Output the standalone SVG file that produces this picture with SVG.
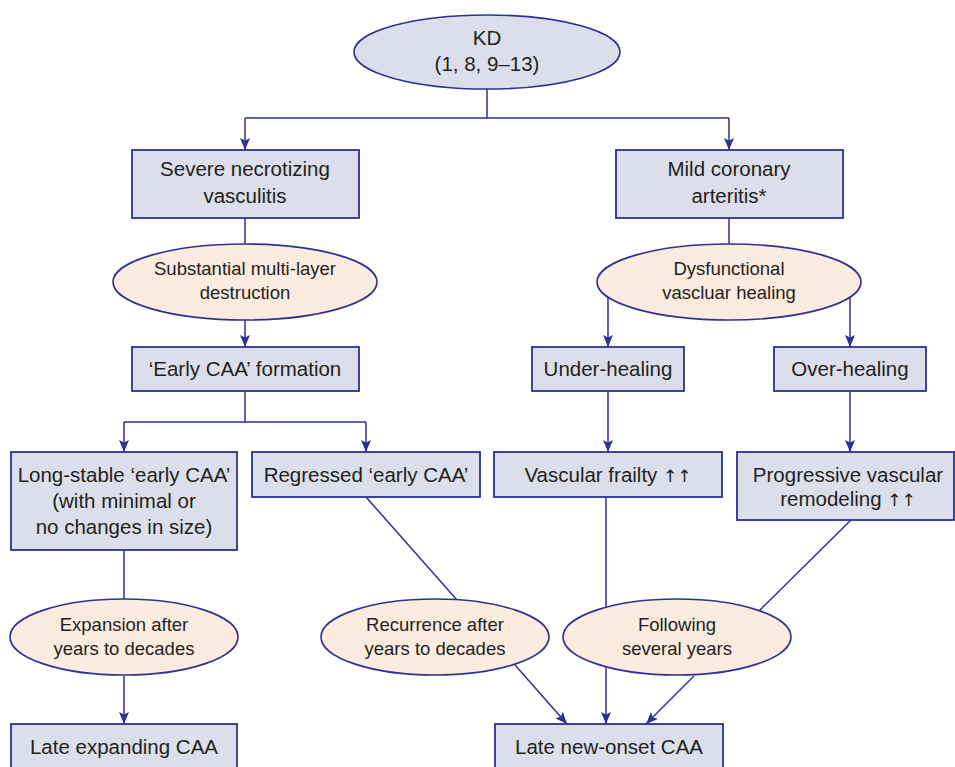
<svg xmlns="http://www.w3.org/2000/svg" width="955" height="767" viewBox="0 0 955 767">
<style>
.box{fill:#dcdeec;stroke:#2e3192;stroke-width:1.8}
.ell{fill:#fcebdf;stroke:#2e3192;stroke-width:1.6}
.kd{fill:#dcdeec;stroke:#2e3192;stroke-width:1.6}
.t{font-family:"Liberation Sans",Arial,sans-serif;font-size:20.5px;fill:#231f20;text-anchor:middle}
.s{font-size:18.5px}
.up{font-family:"DejaVu Sans",sans-serif;font-size:17px;fill:#231f20}
.c{stroke:#2e3192;stroke-width:1.5;fill:none}
.a{marker-end:url(#arr)}
</style>
<defs>
<marker id="arr" markerUnits="userSpaceOnUse" markerWidth="12" markerHeight="12" refX="12" refY="5" orient="auto">
<path d="M0,0 L12,5 L0,10 L2.5,5 z" fill="#2e3192"/>
</marker>
</defs>
<rect width="955" height="767" fill="#ffffff"/>
<g id="connectors">
<path class="c" d="M487,89 V118 M245,118 H729"/>
<path class="c a" d="M245,118 V150"/>
<path class="c a" d="M729,118 V150"/>
<path class="c" d="M245,218 V244"/>
<path class="c a" d="M245,320 V347"/>
<path class="c" d="M729,218 V244"/>
<path class="c a" d="M608,297 V347"/>
<path class="c a" d="M850,297 V347"/>
<path class="c" d="M245,391 V422 M124,422 H366"/>
<path class="c a" d="M124,422 V452"/>
<path class="c a" d="M366,422 V452"/>
<path class="c a" d="M608,391 V452"/>
<path class="c a" d="M850,391 V452"/>
<path class="c" d="M124,550 V599"/>
<path class="c a" d="M124,676 V724"/>
<path class="c" d="M366,497 L457,600"/>
<path class="c a" d="M515,665 L567,724"/>
<path class="c a" d="M606,497 V724"/>
<path class="c" d="M851,520 L759,611"/>
<path class="c a" d="M694,676 L646,724"/>
</g>
<g id="kd">
<ellipse class="kd" cx="487" cy="52" rx="133" ry="37"/>
<text class="t" x="487" y="45">KD</text>
<text class="t" x="487" y="71">(1, 8, 9–13)</text>
</g>
<g id="severe">
<rect class="box" x="132" y="150" width="227" height="68"/>
<text class="t" x="245" y="176">Severe necrotizing</text>
<text class="t" x="245" y="203">vasculitis</text>
</g>
<g id="mild">
<rect class="box" x="616" y="150" width="227" height="68"/>
<text class="t" x="729" y="176">Mild coronary</text>
<text class="t" x="729" y="203">arteritis*</text>
</g>
<g id="substantial">
<ellipse class="ell" cx="245" cy="282" rx="132" ry="38"/>
<text class="t s" x="245" y="275">Substantial multi-layer</text>
<text class="t s" x="245" y="299">destruction</text>
</g>
<g id="dysfunctional">
<ellipse class="ell" cx="729" cy="282" rx="132" ry="38"/>
<text class="t s" x="729" y="275">Dysfunctional</text>
<text class="t s" x="729" y="299">vascluar healing</text>
</g>
<g id="earlycaa">
<rect class="box" x="132" y="347" width="227" height="44"/>
<text class="t" x="245" y="376">‘Early CAA’ formation</text>
</g>
<g id="underhealing">
<rect class="box" x="532" y="347" width="152" height="44"/>
<text class="t" x="608" y="376">Under-healing</text>
</g>
<g id="overhealing">
<rect class="box" x="774" y="347" width="152" height="44"/>
<text class="t" x="850" y="376">Over-healing</text>
</g>
<g id="longstable">
<rect class="box" x="11" y="452" width="226" height="98"/>
<text class="t" x="124" y="482">Long-stable ‘early CAA’</text>
<text class="t" x="124" y="508">(with minimal or</text>
<text class="t" x="124" y="534">no changes in size)</text>
</g>
<g id="regressed">
<rect class="box" x="252" y="452" width="228" height="45"/>
<text class="t" x="366" y="482">Regressed ‘early CAA’</text>
</g>
<g id="frailty">
<rect class="box" x="494" y="452" width="228" height="45"/>
<text class="t" x="608" y="482">Vascular frailty <tspan class="up">↑↑</tspan></text>
</g>
<g id="progressive">
<rect class="box" x="737" y="452" width="217" height="68"/>
<text class="t" x="848" y="482">Progressive vascular</text>
<text class="t" x="848" y="506">remodeling <tspan class="up">↑↑</tspan></text>
</g>
<g id="expansion">
<ellipse class="ell" cx="124" cy="637" rx="114" ry="38"/>
<text class="t s" x="124" y="631">Expansion after</text>
<text class="t s" x="124" y="655">years to decades</text>
</g>
<g id="recurrence">
<ellipse class="ell" cx="435" cy="637" rx="114" ry="38"/>
<text class="t s" x="435" y="631">Recurrence after</text>
<text class="t s" x="435" y="655">years to decades</text>
</g>
<g id="following">
<ellipse class="ell" cx="677" cy="637" rx="114" ry="38"/>
<text class="t s" x="677" y="631">Following</text>
<text class="t s" x="677" y="655">several years</text>
</g>
<g id="lateexpanding">
<rect class="box" x="11" y="724" width="226" height="60"/>
<text class="t" x="124" y="754">Late expanding CAA</text>
</g>
<g id="latenewonset">
<rect class="box" x="495" y="724" width="228" height="60"/>
<text class="t" x="609" y="754">Late new-onset CAA</text>
</g>
</svg>
